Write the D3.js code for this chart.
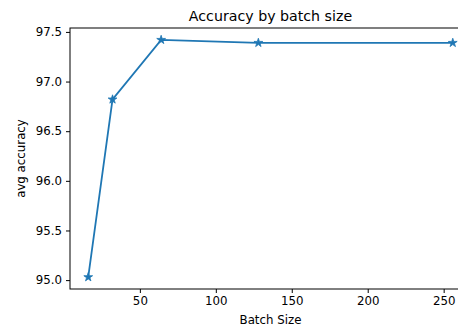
<!DOCTYPE html>
<html>
<head>
<meta charset="utf-8">
<script src="https://cdn.jsdelivr.net/npm/d3@7"></script>
<style>
  body { margin: 0; background: #fff; }
  svg { display: block; font-family: "DejaVu Sans", sans-serif; }
</style>
</head>
<body>
<div id="chart-area"></div>
<script>
// data
var batchSizes = [16, 32, 64, 128, 256];
var avgAccuracy = [95.03, 96.82, 97.42, 97.39, 97.39];
var xTicks = [50, 100, 150, 200, 250];
var yTicks = [95.0, 95.5, 96.0, 96.5, 97.0, 97.5];

var width = 458, height = 327;
var margin = {top: 28, right: -13, bottom: 38, left: 70};
var innerW = width - margin.left - margin.right;
var innerH = height - margin.top - margin.bottom;

var svg = d3.select("#chart-area").append("svg")
    .attr("width", width)
    .attr("height", height);

var g = svg.append("g")
    .attr("transform", "translate(" + margin.left + "," + margin.top + ")");

// matplotlib style 5% padding on both axes
var xExt = d3.extent(batchSizes), xPad = (xExt[1] - xExt[0]) * 0.05;
var yExt = d3.extent(avgAccuracy), yPad = (yExt[1] - yExt[0]) * 0.05;

var x = d3.scaleLinear()
    .domain([xExt[0] - xPad, xExt[1] + xPad])
    .range([0, innerW]);
var y = d3.scaleLinear()
    .domain([yExt[0] - yPad, yExt[1] + yPad])
    .range([innerH, 0]);

var xAxis = g.append("g")
    .attr("transform", "translate(0," + innerH + ")")
    .call(d3.axisBottom(x).tickValues(xTicks).tickSize(4).tickPadding(4).tickFormat(d3.format("d")));
var yAxis = g.append("g")
    .call(d3.axisLeft(y).tickValues(yTicks).tickSize(4).tickPadding(4).tickFormat(d3.format(".1f")));

[xAxis, yAxis].forEach(function(a) {
    a.select(".domain").remove();
    a.selectAll("line").attr("stroke", "#000").attr("stroke-width", 1);
    a.selectAll("text").attr("font-size", 11.8).attr("fill", "#000")
        .attr("font-family", "DejaVu Sans, sans-serif");
});

// spines
g.append("rect")
    .attr("x", 0).attr("y", 0)
    .attr("width", innerW).attr("height", innerH)
    .attr("fill", "none")
    .attr("stroke", "#000")
    .attr("stroke-width", 1);

var line = d3.line()
    .x(function(d, i) { return x(batchSizes[i]); })
    .y(function(d) { return y(d); });

g.append("path")
    .datum(avgAccuracy)
    .attr("d", line)
    .attr("fill", "none")
    .attr("stroke", "#1f77b4")
    .attr("stroke-width", 1.8);

g.selectAll(".marker")
    .data(avgAccuracy)
    .enter().append("path")
    .attr("class", "marker")
    .attr("d", d3.symbol().type(d3.symbolStar).size(24))
    .attr("transform", function(d, i) { return "translate(" + x(batchSizes[i]) + "," + y(d) + ")"; })
    .attr("fill", "#1f77b4")
    .attr("stroke", "#1f77b4")
    .attr("stroke-width", 0.8);

// title and labels
svg.append("text")
    .attr("x", margin.left + innerW / 2)
    .attr("y", 21)
    .attr("text-anchor", "middle")
    .attr("font-size", 14.2)
    .text("Accuracy by batch size");

svg.append("text")
    .attr("x", margin.left + innerW / 2)
    .attr("y", 324)
    .attr("text-anchor", "middle")
    .attr("font-size", 11.8)
    .text("Batch Size");

svg.append("text")
    .attr("transform", "translate(25," + (margin.top + innerH / 2) + ") rotate(-90)")
    .attr("text-anchor", "middle")
    .attr("font-size", 11.8)
    .text("avg accuracy");
</script>
</body>
</html>
